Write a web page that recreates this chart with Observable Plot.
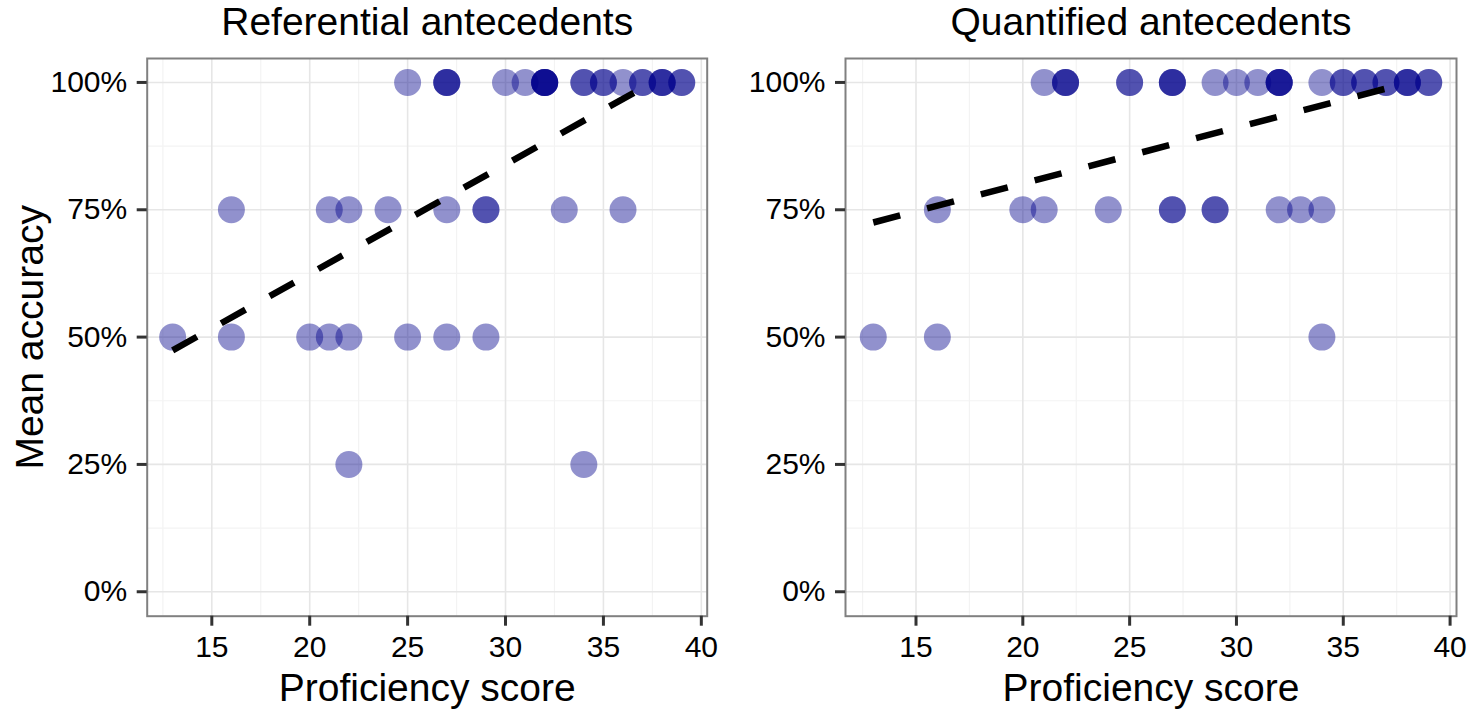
<!DOCTYPE html>
<html>
<head>
<meta charset="utf-8">
<script src="https://cdn.jsdelivr.net/npm/d3@7"></script>
<script src="https://cdn.jsdelivr.net/npm/@observablehq/plot@0.6"></script>
<style>
  html, body { margin: 0; padding: 0; background: white; }
  #wrap { position: relative; width: 1472px; height: 714px; background: white; overflow: hidden; }
  #wrap > div { position: absolute; top: 0; }
</style>
</head>
<body>
<div id="wrap"><div id="p1" style="left:0px"></div><div id="p2" style="left:720px"></div></div>
<script>
// ---- Data ----
const panelTitles = ["Referential antecedents", "Quantified antecedents"];
const xTicks = [15, 20, 25, 30, 35, 40];
const xMinor = [12.5, 17.5, 22.5, 27.5, 32.5, 37.5];
const yTicks = [0, 0.25, 0.5, 0.75, 1];
const yMinor = [0.125, 0.375, 0.625, 0.875];

// Referential antecedents: score, accuracy, number of overlapping participants
const refScore = [25,27,30,31,32,34,35,36,37,38,39, 16,21,22,24,27,29,33,36, 13,16,20,21,22,25,27,29, 22,34];
const refAcc   = [1,1,1,1,1,1,1,1,1,1,1, 0.75,0.75,0.75,0.75,0.75,0.75,0.75,0.75, 0.5,0.5,0.5,0.5,0.5,0.5,0.5,0.5, 0.25,0.25];
const refCount = [1,3,1,1,5,2,2,1,2,3,2, 1,1,1,1,1,2,1,1, 1,1,1,1,1,1,1,1, 1,1];

// Quantified antecedents
const quantScore = [21,22,25,27,29,30,31,32,34,35,36,37,38,39, 16,20,21,24,27,29,32,33,34, 13,16,34];
const quantAcc   = [1,1,1,1,1,1,1,1,1,1,1,1,1,1, 0.75,0.75,0.75,0.75,0.75,0.75,0.75,0.75,0.75, 0.5,0.5,0.5];
const quantCount = [1,3,2,3,1,1,1,4,1,2,2,2,3,2, 1,1,1,1,2,2,1,1,1, 1,1,1];

// Fitted (dashed) lines, endpoints
const refLineX = [13, 37.5];
const refLineY = [0.474, 1.0];
const quantLineX = [13, 38.1];
const quantLineY = [0.725, 1.0];

// ---- Build ----
function expand(score, acc, count) {
  return score.flatMap((s, i) => Array.from({length: count[i]}, () => ({score: s, acc: acc[i]})));
}
const font = "'Liberation Sans', Arial, Helvetica, sans-serif";

function panel({title, points, line, width, marginLeft, marginRight, yTitle}) {
  const marks = [
    Plot.gridX(xMinor, {stroke: "#f3f3f3", strokeOpacity: 1, strokeWidth: 1.2}),
    Plot.gridY(yMinor, {stroke: "#f3f3f3", strokeOpacity: 1, strokeWidth: 1.2}),
    Plot.gridX(xTicks, {stroke: "#e6e6e6", strokeOpacity: 1, strokeWidth: 1.6}),
    Plot.gridY(yTicks, {stroke: "#e6e6e6", strokeOpacity: 1, strokeWidth: 1.6}),
    Plot.dot(points, {x: "score", y: "acc", r: 13.5, fill: "darkblue", fillOpacity: 0.43, stroke: null}),
    Plot.line(line, {x: "x", y: "y", stroke: "black", strokeWidth: 6.5, strokeDasharray: "27.8 27.8", strokeLinecap: "butt"}),
    Plot.frame({stroke: "#808080", strokeWidth: 2}),
    Plot.axisX(xTicks, {tickSize: 10, tickPadding: 9, fontSize: 30, stroke: "#333", strokeWidth: 3, fill: "black", label: null}),
    Plot.axisY(yTicks, {tickSize: 10, tickPadding: 10, fontSize: 30, stroke: "#333", strokeWidth: 3, fill: "black", label: null, tickFormat: d3.format(".0%")}),
    Plot.text([title], {frameAnchor: "top", lineAnchor: "middle", textAnchor: "middle", dy: -35.5, fontSize: 39, fill: "black"}),
    Plot.text(["Proficiency score"], {frameAnchor: "bottom", lineAnchor: "middle", textAnchor: "middle", dy: 72.7, fontSize: 39, fill: "black"})
  ];
  if (yTitle) marks.push(Plot.text([yTitle], {frameAnchor: "left", lineAnchor: "middle", textAnchor: "middle", dx: -117, rotate: -90, fontSize: 39, fill: "black"}));
  return Plot.plot({
    width, height: 714,
    marginLeft, marginRight, marginTop: 58, marginBottom: 98.3,
    style: {fontFamily: font, background: "white", overflow: "visible"},
    x: {domain: [11.7, 40.3]},
    y: {domain: [-0.048, 1.047]},
    marks
  });
}

const refPoints = expand(refScore, refAcc, refCount);
const quantPoints = expand(quantScore, quantAcc, quantCount);
const refLine = refLineX.map((x, i) => ({x, y: refLineY[i]}));
const quantLine = quantLineX.map((x, i) => ({x, y: quantLineY[i]}));

document.getElementById("p1").append(panel({
  title: panelTitles[0], points: refPoints, line: refLine,
  width: 720, marginLeft: 146.7, marginRight: 13.3, yTitle: "Mean accuracy"
}));
document.getElementById("p2").append(panel({
  title: panelTitles[1], points: quantPoints, line: quantLine,
  width: 752, marginLeft: 125, marginRight: 16
}));
</script>
</body>
</html>
